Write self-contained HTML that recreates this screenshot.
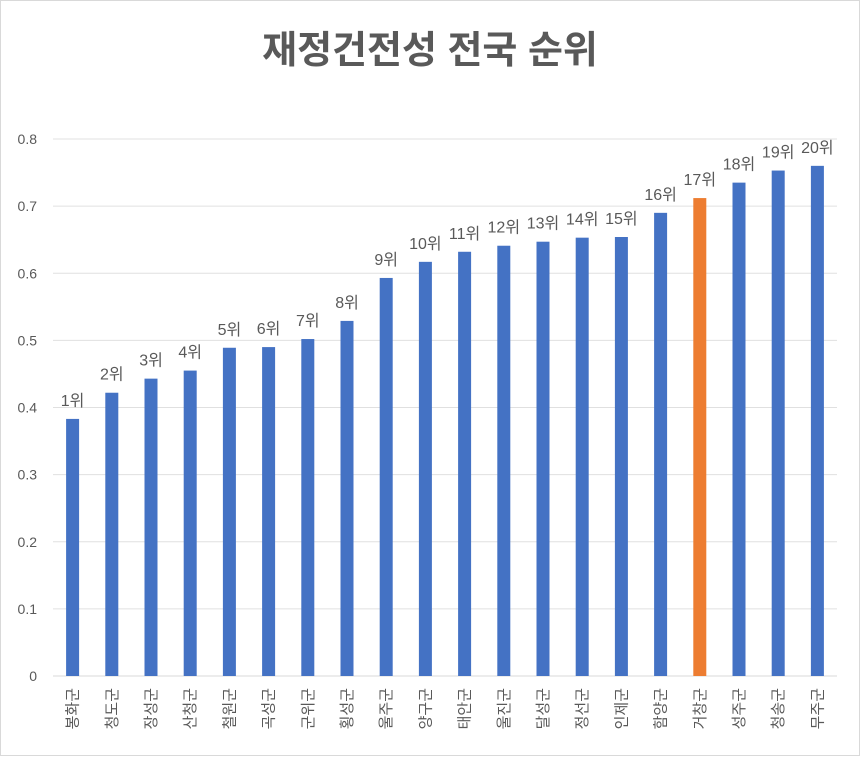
<!DOCTYPE html>
<html><head><meta charset="utf-8"><style>
body{margin:0;background:#fff}
svg text{font-family:"Liberation Sans","Noto Sans CJK KR",sans-serif;fill:#595959}
</style></head><body>
<svg id="c" width="860" height="756">
<rect x="0.5" y="0.5" width="859" height="755" fill="#fff" stroke="#d9d9d9"/>
<text x="430" y="63" text-anchor="middle" font-size="38" font-weight="bold">재정건전성 전국 순위</text>
</svg>
<script>
const categories=["봉화군","청도군","장성군","산청군","철원군","곡성군","군위군","횡성군","울주군","양구군","태안군","울진군","달성군","정선군","인제군","함양군","거창군","성주군","청송군","무주군"];
const values=[0.383,0.422,0.443,0.455,0.489,0.490,0.502,0.529,0.593,0.617,0.632,0.641,0.647,0.653,0.654,0.690,0.712,0.735,0.753,0.760];
const ranks=["1위","2위","3위","4위","5위","6위","7위","8위","9위","10위","11위","12위","13위","14위","15위","16위","17위","18위","19위","20위"];
const ticks=[0,0.1,0.2,0.3,0.4,0.5,0.6,0.7,0.8];
const highlight="거창군";
const svg=document.getElementById('c');const NS="http://www.w3.org/2000/svg";
const x0=53,x1=837,y0=676,y1=139;
const y=v=>y0-(v/0.8)*(y0-y1);
const step=(x1-x0)/categories.length;
const xc=i=>x0+step*(i+0.5);
function mk(t,a){const e=document.createElementNS(NS,t);for(const k in a)e.setAttribute(k,a[k]);svg.appendChild(e);return e;}
ticks.forEach(t=>{
 const g=mk('line',{x1:x0,x2:x1,y1:y(t),y2:y(t),stroke:t===0?'#d9d9d9':'#e0e0e0'});
 
 
 const l=mk('text',{x:37,y:y(t)+5,'text-anchor':'end','font-size':14});
 l.textContent=t===0?'0':t.toFixed(1);
 
 
});
categories.forEach((c,i)=>{
 const b=mk('rect',{x:xc(i)-6.5,y:y(values[i]),width:13,height:y0-y(values[i]),fill:c===highlight?'#ed7d31':'#4472c4'});
 
 
 const r=mk('text',{x:xc(i),y:y(values[i])-13,'text-anchor':'middle','font-size':16});
 r.textContent=ranks[i];
 
 
 const cl=mk('text',{x:0,y:0,'text-anchor':'end','font-size':15,transform:`translate(${xc(i)+5},688) rotate(-90)`});
 cl.textContent=c;
 
 
});
</script>
</body></html>
